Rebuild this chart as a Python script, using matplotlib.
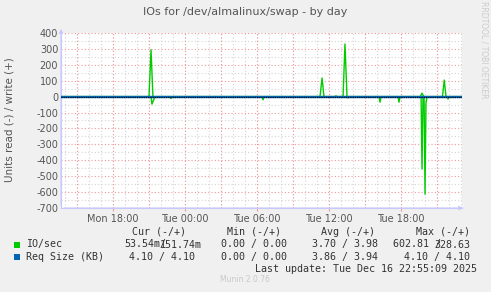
import matplotlib
matplotlib.use("Agg")
import matplotlib.pyplot as plt
from matplotlib.patches import Rectangle
import numpy as np

# time in hours since Mon 00:00
t_start, t_end = 13.67, 47.08

# IO/sec write (+), sparse points, zero elsewhere
write_t = [13.67, 21.0, 21.17, 21.33, 35.25, 35.42, 35.58, 36.5, 36.58, 36.67,
           37.17, 37.33, 37.5, 43.6, 43.75, 43.9, 45.45, 45.6, 45.75, 47.08]
write_v = [0, 0, 295, 0, 0, 117, 0, 0, 5, 0,
           0, 331, 0, 0, 22, 0, 0, 104, 0, 0]

# IO/sec read (-), plotted as negative
read_t = [13.67, 21.17, 21.25, 21.42, 21.5, 22.75, 22.83, 22.92, 30.42, 30.5, 30.58,
          37.5, 37.58, 37.67, 39.42, 39.5, 39.58, 40.17, 40.25, 40.33, 41.75, 41.83, 41.92,
          43.67, 43.75, 43.83, 43.92, 44.0, 44.08, 44.17, 44.25, 45.83, 45.92, 46.0, 47.08]
read_v = [0, 0, 47, 15, 0, 0, 12, 0, 0, 20, 0,
          0, 8, 0, 0, 5, 0, 0, 35, 0, 0, 35, 0,
          0, 455, 0, 0, 613, 40, 0, 0, 0, 15, 0, 0]

# Req size (KB)
req_t = [13.67, 47.08]
req_read = [4.10, 4.10]
req_write = [4.10, 4.10]

xtick_pos = [18, 24, 30, 36, 42]
xtick_labels = ["Mon 18:00", "Tue 00:00", "Tue 06:00", "Tue 12:00", "Tue 18:00"]
yticks = list(range(-700, 401, 100))

W, H = 491, 292
fig = plt.figure(figsize=(W / 100, H / 100), dpi=100, facecolor="#F0F0F0")


def px(x, y):
    return x / W, 1 - y / H


ax = fig.add_axes([61 / W, 1 - 208 / H, (462 - 61) / W, (208 - 33) / H])
ax.set_facecolor("white")
ax.set_xlim(t_start, t_end)
ax.set_ylim(-700, 400)

# grid
for h in np.arange(14, 48, 1):
    ax.axvline(h, color="#D4D4D4", lw=0.8, ls=(0, (1, 2)), zorder=1)
for v in range(-650, 400, 100):
    ax.axhline(v, color="#D4D4D4", lw=0.8, ls=(0, (1, 2)), zorder=1)
for h in range(15, 48, 3):
    ax.axvline(h, color="#F29A9A", lw=0.8, ls=(0, (1, 2)), zorder=2)
for v in yticks:
    ax.axhline(v, color="#F29A9A", lw=0.8, ls=(0, (1, 2)), zorder=2)

ax.plot(write_t, write_v, color="#00CC00", lw=1.0, zorder=3)
ax.plot(read_t, [-v for v in read_v], color="#00CC00", lw=1.0, zorder=3)
ax.plot(req_t, req_write, color="#0066B3", lw=1.0, zorder=4)
ax.plot(req_t, [-v for v in req_read], color="#0066B3", lw=1.0, zorder=4)
ax.axhline(0, color="black", lw=0.8, ls=(0, (1, 1)), zorder=5)

for s in ["top", "right"]:
    ax.spines[s].set_visible(False)
for s in ["left", "bottom"]:
    ax.spines[s].set_color("#C8C8FF")
    ax.spines[s].set_linewidth(0.8)
ax.annotate("", xy=(0, 1.04), xytext=(0, 0), xycoords="axes fraction",
            arrowprops=dict(arrowstyle="-|>", color="#C8C8FF", lw=0.8, mutation_scale=6))
ax.annotate("", xy=(1.01, 0), xytext=(0, 0), xycoords="axes fraction",
            arrowprops=dict(arrowstyle="-|>", color="#C8C8FF", lw=0.8, mutation_scale=6))

ax.set_xticks(xtick_pos)
ax.set_xticklabels(xtick_labels)
ax.set_yticks(yticks)
ax.set_yticklabels([str(v) for v in yticks])
ax.tick_params(axis="both", labelsize=7, colors="#555555", length=2, pad=2)
ax.tick_params(axis="x", color="#F29A9A")
ax.tick_params(axis="y", length=0)

fig.text(*px(245, 12), "IOs for /dev/almalinux/swap - by day", ha="center", va="center",
         fontsize=8, color="#555555")
fig.text(*px(10, 120), "Units read (-) / write (+)", rotation=90, ha="center", va="center",
         fontsize=7.5, color="#555555")
fig.text(*px(484, 50), "RRDTOOL / TOBI OETIKER", rotation=270, ha="center", va="center",
         fontsize=5.5, color="#CCCCCC")

mono = dict(family="DejaVu Sans Mono", fontsize=7.2, color="#333333", va="center")
fig.text(*px(186, 232), "Cur (-/+)", ha="right", **mono)
fig.text(*px(281, 232), "Min (-/+)", ha="right", **mono)
fig.text(*px(375, 232), "Avg (-/+)", ha="right", **mono)
fig.text(*px(470, 232), "Max (-/+)", ha="right", **mono)

fig.patches.append(Rectangle(px(14, 248), 6 / W, 6 / H, transform=fig.transFigure,
                             facecolor="#00CC00", edgecolor="none"))
fig.patches.append(Rectangle(px(14, 260), 6 / W, 6 / H, transform=fig.transFigure,
                             facecolor="#0066B3", edgecolor="none"))

fig.text(*px(26, 244.5), "IO/sec", ha="left", **mono)
fig.text(*px(124, 244.5), "53.54m/", ha="left", **mono)
fig.text(*px(202, 244.5), "151.74m", ha="right", **mono)
fig.text(*px(287, 244.5), "0.00 / 0.00", ha="right", **mono)
fig.text(*px(378, 244.5), "3.70 / 3.98", ha="right", **mono)
fig.text(*px(393, 244.5), "602.81 /", ha="left", **mono)
fig.text(*px(470, 244.5), "328.63", ha="right", **mono)

fig.text(*px(26, 256.7), "Req Size (KB)", ha="left", **mono)
fig.text(*px(195, 256.7), "4.10 / 4.10", ha="right", **mono)
fig.text(*px(287, 256.7), "0.00 / 0.00", ha="right", **mono)
fig.text(*px(378, 256.7), "3.86 / 3.94", ha="right", **mono)
fig.text(*px(470, 256.7), "4.10 / 4.10", ha="right", **mono)

fig.text(*px(477, 268.5), "Last update: Tue Dec 16 22:55:09 2025", ha="right", **mono)
fig.text(*px(245, 280), "Munin 2.0.76", ha="center", va="center", fontsize=5.5, color="#C8C8C8")

fig.savefig("out.png", dpi=100, facecolor=fig.get_facecolor())
